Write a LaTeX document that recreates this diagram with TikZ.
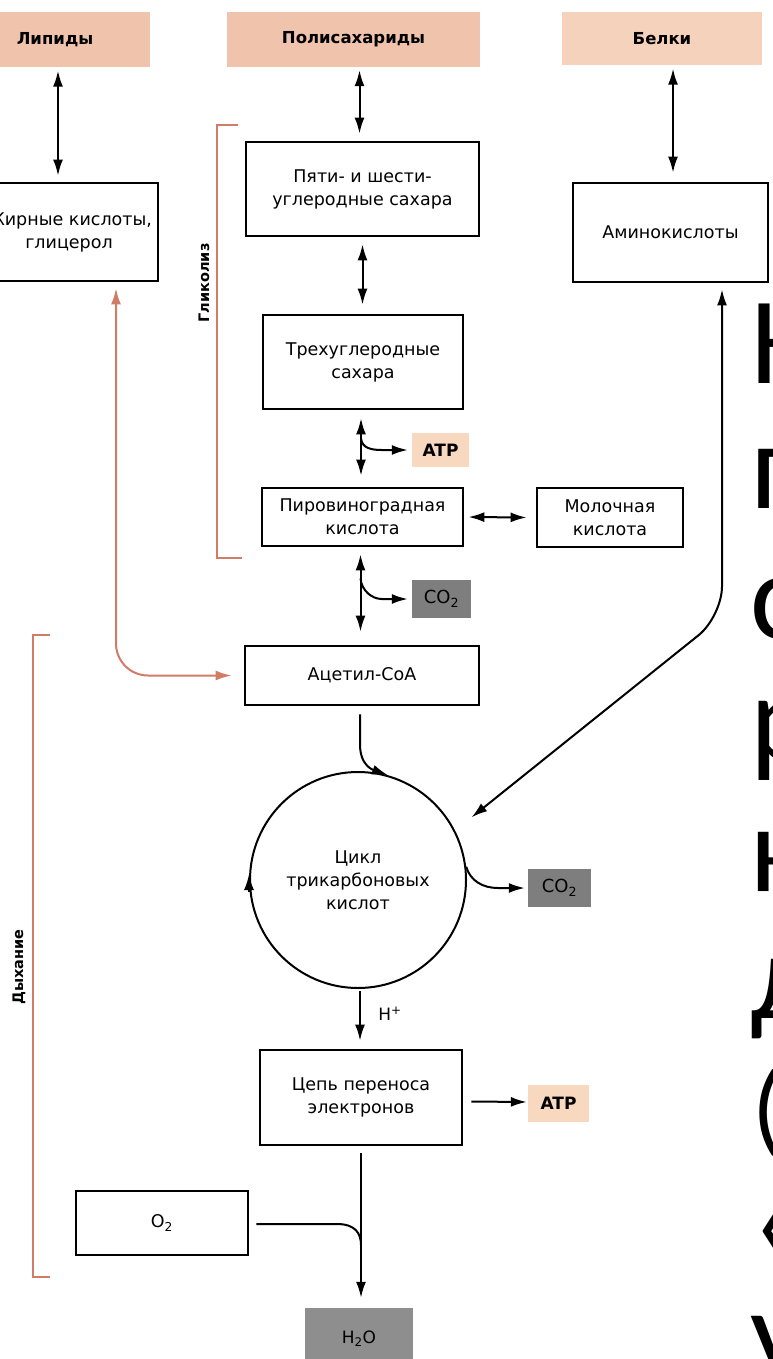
\documentclass[tikz,border=0pt]{standalone}
\usepackage{fontspec}
\setmainfont{DejaVu Sans}
\newfontfamily\bigfont{Carlito}
\usetikzlibrary{arrows.meta,calc}
\definecolor{peach}{HTML}{F0C3AC}
\definecolor{peachb}{HTML}{F4D2BC}
\definecolor{atpc}{HTML}{F8D9C0}
\definecolor{grayc}{HTML}{7E7E7E}
\definecolor{grayd}{HTML}{8E8E8E}
\definecolor{redc}{HTML}{D07C66}
\tikzset{
  box/.style={draw, line width=2.8pt, inner sep=0pt, align=center, font=\fontsize{17.5}{23}\selectfont},
  src/.style={fill=peach, inner sep=0pt, font=\bfseries\fontsize{16.5}{20}\selectfont},
  tag/.style={inner sep=0pt, font=\bfseries\fontsize{17}{20}\selectfont},
  conn/.style={line width=2pt, black},
  dbl/.style={conn, {Latex[length=16pt,width=10pt]}-{Latex[length=16pt,width=10pt]}},
  one/.style={conn, -{Latex[length=16pt,width=10pt]}},
  redl/.style={draw=redc, line width=1.4pt},
  reda/.style={draw=redc, line width=2pt, {Latex[length=16pt,width=10pt]}-{Latex[length=16pt,width=10pt]}},
  side/.style={inner sep=0pt, font=\bfseries\fontsize{14.5}{16}\selectfont},
  big/.style={inner sep=0pt, anchor=base west, font=\bigfont\fontsize{124}{130}\selectfont}
}
\begin{document}
\begin{tikzpicture}[x=1pt,y=-1pt]
\useasboundingbox (0,0) rectangle (773,1359);
\clip (0,0) rectangle (773,1359);

% source boxes
\node[src, minimum width=190pt, minimum height=55pt] (lip) at (55,40) {Липиды};
\node[src, minimum width=253pt, minimum height=55pt] (poly) at (353.5,39.5) {Полисахариды};
\node[src, fill=peachb, minimum width=200pt, minimum height=53pt] (bel) at (662,39) {Белки};

% boxes
\node[box, minimum width=178pt, minimum height=98pt] (fa) at (69,232) {Жирные кислоты,\\глицерол};
\node[box, minimum width=233pt, minimum height=94pt] (pent) at (362.5,189) {Пяти- и шести-\\углеродные сахара};
\node[box, minimum width=195pt, minimum height=99pt] (amino) at (670.5,232.5) {Аминокислоты};
\node[box, minimum width=200pt, minimum height=94pt] (tri) at (363,362) {Трехуглеродные\\сахара};
\node[tag, fill=atpc, minimum width=57pt, minimum height=34pt] (atp1) at (440.5,450) {ATP};
\node[box, minimum width=201pt, minimum height=58pt] (pyr) at (362.5,517) {Пировиноградная\\кислота};
\node[box, minimum width=146pt, minimum height=59pt] (lac) at (610,517.5) {Молочная\\кислота};
\node[tag, fill=grayc, font=\fontsize{18}{20}\selectfont, minimum width=59pt, minimum height=38pt] (co2a) at (441.5,599) {CO\textsubscript{2}};
\node[box, minimum width=234pt, minimum height=59pt] (acoa) at (362,675.5) {Ацетил-CoA};
\node[circle, draw, line width=2pt, minimum size=216pt, inner sep=0pt, align=center,
      font=\fontsize{17.5}{23}\selectfont] (tca) at (358,880) {Цикл\\трикарбоновых\\кислот};
\node[tag, fill=grayc, font=\fontsize{18}{20}\selectfont, minimum width=63pt, minimum height=38pt] (co2b) at (559.5,888) {CO\textsubscript{2}};
\node[box, minimum width=202pt, minimum height=95pt] (etc) at (361,1097.5) {Цепь переноса\\электронов};
\node[tag, fill=atpc, minimum width=61pt, minimum height=37pt] (atp2) at (558.5,1103.5) {ATP};
\node[box, minimum width=172pt, minimum height=64pt] (o2) at (162,1223) {O\textsubscript{2}};
\node[tag, fill=grayd, font=\fontsize{17}{20}\selectfont, minimum width=108pt, minimum height=62pt] (h2o) at (359,1339) {H\textsubscript{2}O};
\node[inner sep=0pt, font=\fontsize{17}{20}\selectfont] (hplus) at (390,1014) {H\textsuperscript{+}};

% connectors
\draw[dbl] ($(lip.south)+(3,3)$) -- ($(lip.south |- fa.north)+(3,-6)$);
\draw[dbl] ($(pent.north |- poly.south)+(-3,3)$) -- ($(pent.north)+(-3,-7)$);
\draw[dbl] ($(bel.south)+(11,3)$) -- ($(bel.south |- amino.north)+(11,-9)$);
\draw[dbl] ($(pent.south)+(0,7)$) -- ($(pent.south |- tri.north)+(0,-9)$);
\draw[dbl] ($(tri.south)+(-2,8)$) -- ($(tri.south |- pyr.north)+(-2,-11)$);
\coordinate (br1) at ($(tri.south)+(-2,28)$);
\draw[one] (br1) .. controls +(1,10) and +(-10,0) .. ($(atp1.west)+(-30,0)$) -- ($(atp1.west)+(-4,0)$);
\draw[dbl] ($(pyr.east)+(4,0)$) -- ($(lac.west)+(-9,0)$);
\draw[dbl] ($(pyr.south)+(-2,7)$) -- ($(pyr.south |- acoa.north)+(-2,-13)$);
\coordinate (br2) at ($(pyr.south)+(-2,31)$);
\draw[one] (br2) .. controls +(1,12) and +(-10,0) .. ($(co2a.west)+(-30,0)$) -- ($(co2a.west)+(-4,0)$);
\draw[reda, rounded corners=32pt] ($(fa.south)+(47,6)$) -- ($(fa.south |- acoa.west)+(47,0)$) -- ($(acoa.west)+(-12,0)$);
\draw[one] ($(acoa.south)+(-2,8)$) -- ($(acoa.south)+(-2,38)$) .. controls +(0,22) and +(-14,-5) .. (tca.74);
\draw[one] ($(tca.west)+(0,12)$) -- ($(tca.west)+(0,-6)$);
\draw[dbl, rounded corners=30pt, shorten >=21pt] ($(amino.south)+(51.5,6)$) -- ($(amino.south)+(51.5,333)$) -- (tca.27.5);
\draw[one] (tca.7) .. controls +(4,14) and +(-15,0) .. ($(co2b.west)+(-30,0)$) -- ($(co2b.west)+(-3,0)$);
\draw[one] ($(tca.south)+(2,2)$) -- ($(tca.south |- etc.north)+(2,-8)$);
\draw[one] ($(etc.east)+(8,4)$) -- ($(atp2.west)+(-1,-1.5)$);
\draw[one] ($(etc.south)+(0,7)$) -- ($(etc.south |- h2o.north)+(0,-10)$);
\draw[conn] ($(o2.east)+(7,1)$) -- ($(etc.south |- o2.east)+(-24,1)$) .. controls +(18,0) and +(0,-12) .. ($(etc.south |- o2.east)+(0,22)$);

% brackets
\draw[redl] (238,125) -- (217,125) -- (217,558) -- (242,558);
\node[side, rotate=90] (glyc) at (204,283) {Гликолиз};
\draw[redl] (50,635) -- (33,635) -- (33,1277) -- (50,1277);
\node[side, rotate=90] (resp) at (19,967) {Дыхание};

% large overlay letters at right edge
\node[big] (l1) at (750,383) {Н};
\node[big] (l2) at (750,508) {п};
\node[big] (l3) at (750,638) {с};
\node[big] (l4) at (750,760) {р};
\node[big] (l5) at (750,891) {к};
\node[big] (l6) at (750,1018) {д};
\node[big, font=\bigfont\fontsize{100}{110}\selectfont] (l7) at (752,1142) {(};
\node[big] (l8) at (750,1262) {«};
\node[big] (l9) at (750,1375) {у};
\end{tikzpicture}
\end{document}
